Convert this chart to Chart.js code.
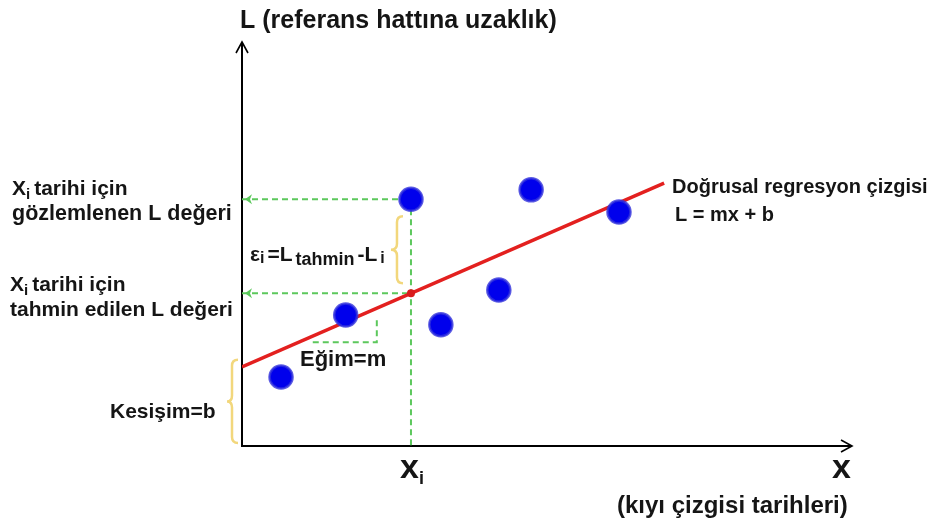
<!DOCTYPE html>
<html>
<head>
<meta charset="utf-8">
<script src="https://cdn.jsdelivr.net/npm/chart.js@4.4.1/dist/chart.umd.min.js"></script>
<style>
html,body{margin:0;padding:0;background:#fff;}
#wrap{width:929px;height:525px;position:relative;}
</style>
</head>
<body>
<div id="wrap"><canvas id="c" width="929" height="525"></canvas></div>
<script>
// Observed data points (x = shoreline date, L = distance to baseline)
const pointX = [6.4, 17.0, 27.7, 32.6, 42.1, 47.4, 61.8];
const pointY = [17.1, 32.4, 61.1, 30.0, 38.6, 63.4, 57.9];
// Regression line L = m x + b
const interceptB = 19.6;
const slopeM = 0.657;
const lineX = [0, 69.2];
// Selected date x_i
const xi = 27.7;
const observedAtXi = 61.1;
// Slope triangle
const slopeTriX = [11.6, 22.1, 22.1];
const slopeTriY = [25.7, 25.7, 31.7];
const axisMin = 0, axisMax = 100;

const predictedAtXi = interceptB + slopeM * xi;
const regLine = lineX.map(x => ({x: x, y: interceptB + slopeM * x}));

const green = '#5cc85c';
const dashed = {showLine: true, pointRadius: 0, borderColor: green, borderWidth: 2, borderDash: [6, 4], fill: false};

const overlay = {
  id: 'overlay',
  beforeDatasetsDraw(chart) {
    const {ctx, scales: {x, y}} = chart;
    ctx.save();
    ctx.strokeStyle = '#000';
    ctx.lineWidth = 2;
    const x0 = x.getPixelForValue(axisMin), y0 = y.getPixelForValue(axisMin);
    const xE = x.getPixelForValue(axisMax), yE = y.getPixelForValue(axisMax);
    ctx.beginPath();
    ctx.moveTo(x0, y0); ctx.lineTo(x0, yE);
    ctx.moveTo(x0 - 1, y0); ctx.lineTo(xE, y0);
    ctx.stroke();
    // arrows
    ctx.lineWidth = 1.6;
    ctx.beginPath();
    ctx.moveTo(x0 - 6, yE + 11); ctx.lineTo(x0, yE); ctx.lineTo(x0 + 6, yE + 11);
    ctx.moveTo(xE - 11, y0 - 6); ctx.lineTo(xE, y0); ctx.lineTo(xE - 11, y0 + 6);
    ctx.stroke();
    ctx.restore();
  },
  afterDatasetsDraw(chart) {
    const {ctx, scales: {x, y}} = chart;
    ctx.save();
    // green arrowheads
    ctx.fillStyle = green;
    [observedAtXi, predictedAtXi].forEach(v => {
      const py = y.getPixelForValue(v), px = x.getPixelForValue(axisMin) + 3;
      ctx.beginPath();
      ctx.moveTo(px, py); ctx.lineTo(px + 7, py - 5); ctx.lineTo(px + 5, py); ctx.lineTo(px + 7, py + 5);
      ctx.closePath(); ctx.fill();
    });
    // braces
    function brace(xr, xm, xt, y1, y2) {
      const ym = (y1 + y2) / 2, r = 6;
      ctx.beginPath();
      ctx.moveTo(xr, y1);
      ctx.quadraticCurveTo(xm, y1, xm, y1 + r);
      ctx.lineTo(xm, ym - r);
      ctx.quadraticCurveTo(xm, ym, xt, ym);
      ctx.quadraticCurveTo(xm, ym, xm, ym + r);
      ctx.lineTo(xm, y2 - r);
      ctx.quadraticCurveTo(xm, y2, xr, y2);
      ctx.stroke();
    }
    ctx.strokeStyle = '#f2d77c';
    ctx.lineWidth = 2.5;
    const pxi = x.getPixelForValue(xi);
    brace(pxi - 8, pxi - 14, pxi - 20, y.getPixelForValue(observedAtXi) + 17, y.getPixelForValue(predictedAtXi) - 10);
    const pb = x.getPixelForValue(axisMin);
    brace(pb - 4, pb - 10, pb - 15, y.getPixelForValue(interceptB) - 7, y.getPixelForValue(axisMin) - 3);

    // texts
    ctx.fillStyle = '#151515';
    ctx.textBaseline = 'alphabetic';
    ctx.textAlign = 'left';
    const F = (s) => 'bold ' + s + 'px "Liberation Sans", Arial, sans-serif';
    function sub(parts, px, py) {
      let cx = px;
      parts.forEach(p => {
        ctx.font = F(p[1]);
        ctx.fillText(p[0], cx, py + (p[2] || 0));
        cx += ctx.measureText(p[0]).width + (p[3] || 0);
      });
    }
    ctx.font = F(25);
    ctx.fillText('L (referans hattına uzaklık)', 240, 28);

    sub([['X', 21], ['i', 15, 4, 4], ['tarihi için', 21]], 12, 195);
    ctx.font = F(21.5);
    ctx.fillText('gözlemlenen L değeri', 12, 220);
    sub([['X', 21], ['i', 15, 4, 4], ['tarihi için', 21]], 10, 291);
    ctx.font = F(21);
    ctx.fillText('tahmin edilen L değeri', 10, 316);

    sub([['ε', 21], ['i', 16, 2, 3], ['=L', 21, 0, 3], ['tahmin', 18, 4, 3], ['-L', 21, 0, 3], ['i', 16, 2]], 250, 261);

    ctx.font = F(22);
    ctx.fillText('Eğim=m', 300, 366);
    ctx.font = F(21);
    ctx.fillText('Kesişim=b', 110, 418);

    ctx.font = F(20);
    ctx.fillText('Doğrusal regresyon çizgisi', 672, 193);
    ctx.fillText('L = mx + b', 675, 221);

    sub([['x', 34], ['i', 18, 6]], pxi - 11, 478);
    ctx.font = F(34);
    ctx.fillText('x', 832, 478);
    ctx.font = F(24);
    ctx.fillText('(kıyı çizgisi tarihleri)', 617, 513);
    ctx.restore();
  }
};

new Chart(document.getElementById('c'), {
  type: 'scatter',
  data: {
    datasets: [
      {data: pointX.map((v, i) => ({x: v, y: pointY[i]})), pointRadius: 11.5, pointHoverRadius: 11.5,
       backgroundColor: '#0000ec', borderColor: 'rgba(50,50,220,0.8)', borderWidth: 2.5},
      {data: [{x: xi, y: predictedAtXi}], pointRadius: 4, backgroundColor: '#d81c1c', borderWidth: 0},
      {data: regLine, showLine: true, pointRadius: 0, borderColor: '#e3201f', borderWidth: 3.5},
      Object.assign({data: [{x: axisMin, y: observedAtXi}, {x: xi, y: observedAtXi}]}, dashed),
      Object.assign({data: [{x: axisMin, y: predictedAtXi}, {x: xi, y: predictedAtXi}]}, dashed),
      Object.assign({data: [{x: xi, y: observedAtXi}, {x: xi, y: axisMin}]}, dashed),
      Object.assign({data: slopeTriX.map((v, i) => ({x: v, y: slopeTriY[i]}))}, dashed)
    ]
  },
  options: {
    responsive: false,
    animation: false,
    events: [],
    layout: {padding: {left: 242, right: 77, top: 42, bottom: 79}},
    plugins: {legend: {display: false}, tooltip: {enabled: false}},
    scales: {
      x: {type: 'linear', min: axisMin, max: axisMax, display: false},
      y: {type: 'linear', min: axisMin, max: axisMax, display: false}
    }
  },
  plugins: [overlay]
});
</script>
</body>
</html>
